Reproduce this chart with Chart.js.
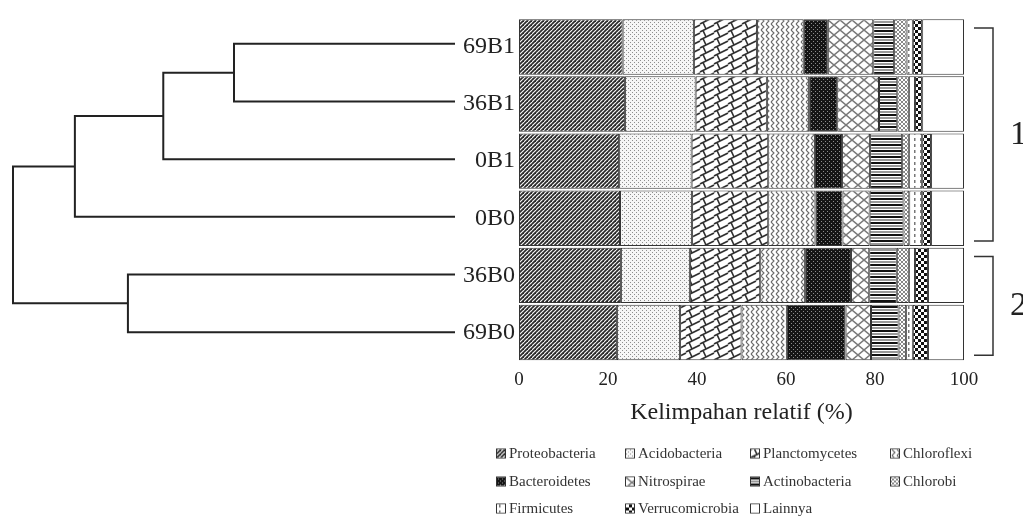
<!DOCTYPE html>
<html>
<head>
<meta charset="utf-8">
<script src="https://cdn.jsdelivr.net/npm/chart.js@4.4.1/dist/chart.umd.min.js"></script>
<style>
  html, body { margin: 0; padding: 0; background: #fff; }
  #wrap { position: relative; width: 1023px; height: 516px; overflow: hidden;
          font-family: "Liberation Serif", "Times New Roman", serif; }
  #dendro, #bars { position: absolute; left: 0; top: 0; }
  #legend { position: absolute; left: 0; top: 0; width: 1023px; height: 516px; }
  .item { position: absolute; display: flex; align-items: center; font-size: 15px;
          color: #333; white-space: nowrap; transform: translateY(-50%); }
  .item canvas { width: 8px; height: 8px; border: 1px solid #333; margin-right: 3px; }
</style>
</head>
<body>
<div id="wrap">
  <canvas id="dendro" width="470" height="380"></canvas>
  <canvas id="bars" width="1023" height="440"></canvas>
  <div id="legend"></div>
</div>
<script>
// Samples, top to bottom (dendrogram leaf order)
const samples = ['69B1', '36B1', '0B1', '0B0', '36B0', '69B0'];

const taxa = ['Proteobacteria', 'Acidobacteria', 'Planctomycetes', 'Chloroflexi',
              'Bacteroidetes', 'Nitrospirae', 'Actinobacteria', 'Chlorobi',
              'Firmicutes', 'Verrucomicrobia', 'Lainnya'];

// Relative abundance (%) per sample, in the order of `samples`
const proteobacteria  = [23.3, 23.8, 22.5, 22.7, 22.9, 22.0];
const acidobacteria   = [16.0, 15.9, 16.3, 16.2, 15.5, 14.2];
const planctomycetes  = [14.2, 16.0, 17.2, 17.1, 15.8, 13.8];
const chloroflexi     = [10.5,  9.5, 10.5, 10.6, 10.1, 10.2];
const bacteroidetes   = [ 5.4,  6.3,  6.1,  6.1, 10.3, 13.2];
const nitrospirae     = [10.2,  9.4,  6.3,  6.1,  4.1,  5.7];
const actinobacteria  = [ 4.7,  4.1,  7.2,  7.6,  6.2,  6.2];
const chlorobi        = [ 2.8,  2.6,  1.5,  1.3,  2.7,  1.7];
const firmicutes      = [ 1.4,  1.4,  3.0,  2.9,  1.4,  1.5];
const verrucomicrobia = [ 2.1,  1.6,  2.0,  2.0,  2.9,  3.4];
const lainnya         = [ 9.4,  9.4,  7.4,  7.4,  8.1,  8.1];

const abundance = [proteobacteria, acidobacteria, planctomycetes, chloroflexi,
                   bacteroidetes, nitrospirae, actinobacteria, chlorobi,
                   firmicutes, verrucomicrobia, lainnya];

// x axis ticks (%)
const xTicks = [0, 20, 40, 60, 80, 100];

// Hierarchical clustering: indices 0-5 are samples, 6+ are earlier merges
const mergeLeft   = [0, 6, 7, 4, 8];
const mergeRight  = [1, 2, 3, 5, 9];
const mergeHeight = [0.50, 0.66, 0.86, 0.74, 1.00];

// Cluster groups marked with brackets on the right
const clusterNames = ['1', '2'];
const clusterFirst = [0, 4];
const clusterLast  = [3, 5];

Chart.defaults.font.family = '"Liberation Serif", "Times New Roman", serif';
Chart.defaults.color = '#222';

// ---- fill patterns -------------------------------------------------------
function makePattern(w, h, bg, draw) {
  const c = document.createElement('canvas');
  c.width = w; c.height = h;
  const g = c.getContext('2d');
  g.fillStyle = bg;
  g.fillRect(0, 0, w, h);
  for (const dx of [-w, 0, w]) {
    for (const dy of [-h, 0, h]) {
      g.save(); g.translate(dx, dy); draw(g, w, h); g.restore();
    }
  }
  return g.createPattern(c, 'repeat');
}
function strokeLines(color, width, pts) {
  return (g) => {
    g.strokeStyle = color; g.lineWidth = width; g.beginPath();
    pts.forEach(p => { g.moveTo(p[0], p[1]); for (let i = 2; i < p.length; i += 2) g.lineTo(p[i], p[i + 1]); });
    g.stroke();
  };
}
function fillRects(color, rects) {
  return (g) => { g.fillStyle = color; rects.forEach(r => g.fillRect(r[0], r[1], r[2], r[3])); };
}

const fills = [
  makePattern(4, 4, '#fff', strokeLines('#2a2a2a', 1.8, [[0, 4, 4, 0]])),                      // dense diagonals
  makePattern(4, 4, '#f6f6f6', fillRects('#8e8e8e', [[0, 0, 1, 1], [2, 2, 1, 1]])),             // stipple
  makePattern(14, 8, '#fff', strokeLines('#303030', 1.6, [[0, 8, 14, 1], [3, -1.5, 6, 5]])),    // diagonal brick
  makePattern(5, 6, '#fff', strokeLines('#6a6a6a', 1.1, [[1, 0, 4, 3, 1, 6]])),                  // zigzag
  makePattern(4, 4, '#151515', fillRects('#8c8c8c', [[1, 1, 1, 1], [3, 3, 1, 1]])),             // dark dotted
  makePattern(12, 10, '#fff', strokeLines('#7a7a7a', 1.5, [[0, 0, 12, 10], [12, 0, 0, 10]])),   // diamond lattice
  makePattern(4, 6, '#fff', (g) => { fillRects('#111', [[0, 0, 4, 2]])(g); fillRects('#999', [[0, 3, 4, 2]])(g); }), // stripes
  makePattern(4, 4, '#fff', strokeLines('#888', 1, [[0, 0, 4, 4], [4, 0, 0, 4]])),              // fine crosshatch
  makePattern(6, 6, '#fff', fillRects('#777', [[2, 0, 1.5, 3]])),                                // dashed verticals
  makePattern(6, 6, '#111', fillRects('#fff', [[0, 0, 3, 3], [3, 3, 3, 3]])),                   // checker
  '#ffffff'
];

// ---- dendrogram ----------------------------------------------------------
const nodeY = samples.map((_, i) => i);
const nodeH = samples.map(() => 0);
const dendroSets = mergeLeft.map((a, k) => {
  const b = mergeRight[k], h = mergeHeight[k];
  const seg = [
    { x: nodeH[a], y: nodeY[a] }, { x: h, y: nodeY[a] },
    { x: h, y: nodeY[b] }, { x: nodeH[b], y: nodeY[b] }
  ];
  nodeY.push((nodeY[a] + nodeY[b]) / 2);
  nodeH.push(h);
  return { data: seg, showLine: true, borderColor: '#222', borderWidth: 2,
           pointRadius: 0, tension: 0, clip: false };
});

new Chart(document.getElementById('dendro'), {
  type: 'scatter',
  data: { datasets: dendroSets },
  options: {
    responsive: false, animation: false,
    layout: { padding: { left: 13, right: 15, top: 15, bottom: 19 } },
    plugins: { legend: { display: false }, tooltip: { enabled: false } },
    scales: {
      x: { type: 'linear', min: 0, max: 1, reverse: true, display: false },
      y: { type: 'linear', min: -0.5, max: samples.length - 0.5, reverse: true, display: false }
    }
  }
});

// ---- stacked bars --------------------------------------------------------
const clusterBrackets = {
  id: 'clusterBrackets',
  afterDraw(chart) {
    const { ctx, chartArea, scales: { y } } = chart;
    const step = y.getPixelForValue(1) - y.getPixelForValue(0);
    ctx.save();
    ctx.strokeStyle = '#333';
    ctx.lineWidth = 1.5;
    ctx.fillStyle = '#222';
    ctx.font = '34px "Liberation Serif", "Times New Roman", serif';
    ctx.textBaseline = 'middle';
    ctx.textAlign = 'left';
    clusterNames.forEach((name, i) => {
      const top = y.getPixelForValue(clusterFirst[i]) - step * 0.33;
      const bot = y.getPixelForValue(clusterLast[i]) + step * 0.4;
      const x1 = chartArea.right + 10, x2 = chartArea.right + 29;
      ctx.beginPath();
      ctx.moveTo(x1, top); ctx.lineTo(x2, top); ctx.lineTo(x2, bot); ctx.lineTo(x1, bot);
      ctx.stroke();
      ctx.fillText(name, chartArea.right + 46, (top + bot) / 2);
    });
    ctx.restore();
  }
};

const barChart = new Chart(document.getElementById('bars'), {
  type: 'bar',
  data: {
    labels: samples,
    datasets: taxa.map((name, i) => ({
      label: name,
      data: abundance[i],
      backgroundColor: fills[i],
      borderColor: '#333',
      borderWidth: 1,
      borderSkipped: false,
      categoryPercentage: 1,
      barPercentage: 0.97
    }))
  },
  options: {
    indexAxis: 'y',
    responsive: false, animation: false,
    layout: { padding: { left: 459, right: 59, top: 15, bottom: 9 } },
    plugins: { legend: { display: false }, tooltip: { enabled: false } },
    scales: {
      x: {
        stacked: true, min: 0, max: 100,
        afterBuildTicks: (s) => { s.ticks = xTicks.map(v => ({ value: v })); },
        afterFit: (s) => { s.height = 70; },
        grid: { display: false, drawTicks: false },
        border: { display: false },
        ticks: { font: { size: 19 }, color: '#222', padding: 8 },
        title: { display: true, text: 'Kelimpahan relatif (%)', font: { size: 24 },
                 color: '#222', padding: { top: 4, bottom: 4 } }
      },
      y: {
        stacked: true,
        afterFit: (s) => { s.width = 60; },
        grid: { display: false, drawTicks: false },
        border: { display: false },
        ticks: { font: { size: 24 }, color: '#222', padding: 4 }
      }
    }
  },
  plugins: [clusterBrackets]
});

// ---- legend (4 columns, 3 rows) ------------------------------------------
const legendCols = [496, 625, 750, 890];
const legendRows = [453, 481, 508];
const legendEl = document.getElementById('legend');
let prevRight = 0;
barChart.data.datasets.forEach((ds, i) => {
  const row = Math.floor(i / 4), col = i % 4;
  const item = document.createElement('div');
  item.className = 'item';
  const sw = document.createElement('canvas');
  sw.width = 8; sw.height = 8;
  const g = sw.getContext('2d');
  g.fillStyle = ds.backgroundColor;
  g.fillRect(0, 0, 8, 8);
  item.appendChild(sw);
  item.appendChild(document.createTextNode(ds.label));
  legendEl.appendChild(item);
  let left = legendCols[col];
  if (col > 0 && prevRight + 4 > left) left = prevRight + 4;
  item.style.left = left + 'px';
  item.style.top = legendRows[row] + 'px';
  prevRight = left + item.offsetWidth;
});
</script>
</body>
</html>
